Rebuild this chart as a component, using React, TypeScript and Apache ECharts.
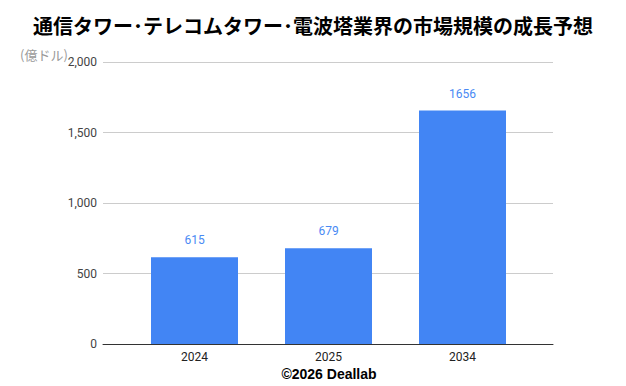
import React, { useEffect, useRef } from "react";
import * as echarts from "echarts";

const categories = ["2024", "2025", "2034"];
const values = [615, 679, 1656];
const yTicks = { min: 0, max: 2000, interval: 500 };
const titleText = "通信タワー･テレコムタワー･電波塔業界の市場規模の成長予想";
const unitText = "(億ドル)";
const footerText = "©2026 Deallab";

export default function App() {
  const ref = useRef<HTMLDivElement>(null);
  useEffect(() => {
    if (!ref.current) return;
    const chart = echarts.init(ref.current, undefined, { renderer: "svg" });
    chart.setOption({
      animation: false,
      backgroundColor: "#ffffff",
      grid: [
        { left: 103, width: 450, top: 62, height: 282 },
        { left: 127.5, width: 402, top: 62, height: 282 },
      ],
      xAxis: [
        {
          type: "category",
          gridIndex: 0,
          data: categories,
          axisLabel: { show: false },
          axisTick: { show: false },
          axisLine: { show: true, lineStyle: { color: "#333333", width: 1 } },
          z: 10,
        },
        {
          type: "category",
          gridIndex: 1,
          data: categories,
          axisLine: { show: false },
          axisTick: { show: false },
          axisLabel: {
            color: "#222222",
            fontFamily: "Roboto",
            fontSize: 12,
            margin: 7,
          },
        },
      ],
      yAxis: [
        {
          type: "value",
          gridIndex: 0,
          min: yTicks.min,
          max: yTicks.max,
          interval: yTicks.interval,
          axisLine: { show: false },
          axisTick: { show: false },
          axisLabel: {
            color: "#444444",
            fontFamily: "Roboto",
            fontSize: 12,
            margin: 6,
            formatter: (v: number) => v.toLocaleString("en-US"),
          },
          splitLine: { lineStyle: { color: "#cccccc", width: 1 } },
        },
        {
          type: "value",
          gridIndex: 1,
          min: yTicks.min,
          max: yTicks.max,
          interval: yTicks.interval,
          show: false,
        },
      ],
      series: [
        {
          type: "bar",
          xAxisIndex: 1,
          yAxisIndex: 1,
          data: values,
          barWidth: 87,
          itemStyle: { color: "#4285F4" },
          label: {
            show: true,
            position: "top",
            distance: 11,
            color: "#4a8af4",
            fontFamily: "Roboto",
            fontSize: 12,
          },
        },
      ],
      graphic: [
        {
          type: "text",
          x: 313,
          y: 25,
          style: {
            text: titleText,
            fontFamily: "Noto Sans CJK JP",
            fontWeight: "bold",
            fontSize: 20,
            fill: "#000000",
            textAlign: "center",
            textVerticalAlign: "middle",
          },
        },
        {
          type: "text",
          x: 20,
          y: 54,
          style: {
            text: unitText,
            fontFamily: "Noto Sans CJK JP",
            fontSize: 13,
            fill: "#999999",
            textAlign: "left",
            textVerticalAlign: "middle",
          },
        },
        {
          type: "text",
          x: 329,
          y: 374,
          style: {
            text: footerText,
            fontFamily: "Liberation Sans",
            fontWeight: "bold",
            fontSize: 14,
            fill: "#000000",
            textAlign: "center",
            textVerticalAlign: "middle",
          },
        },
      ],
    });
    return () => chart.dispose();
  }, []);
  return <div ref={ref} style={{ width: 626, height: 386, position: "absolute", left: 0, top: 0 }} />;
}
